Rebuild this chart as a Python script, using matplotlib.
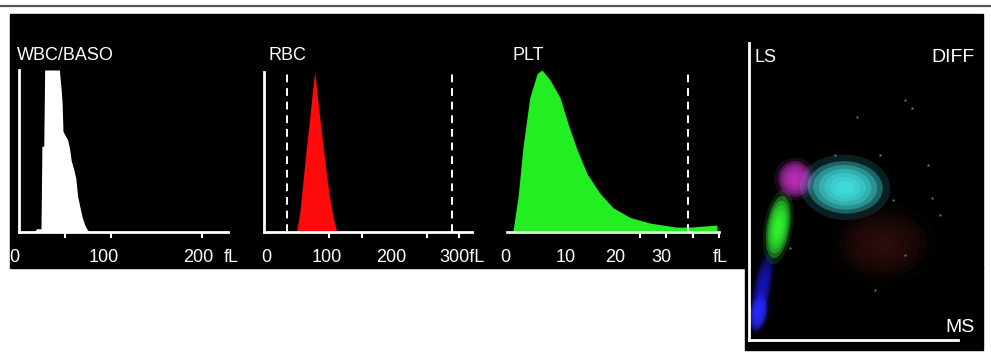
import numpy as np
import matplotlib.pyplot as plt
from matplotlib.patches import Rectangle, Ellipse

W, H = 991, 357
FONT = ['Liberation Sans Narrow', 'Liberation Sans', 'DejaVu Sans']

# --- WBC/BASO histogram (fL vs relative count) ---
wbc_fl = [17, 19, 24, 25, 27, 28, 44, 46, 47, 48, 53, 55, 57, 60, 62, 64, 67, 69, 72, 75, 78]
wbc_count = [0, 2, 2, 53, 53, 100, 100, 88, 80, 62, 57, 52, 44, 38, 33, 22, 14, 9, 4, 1, 0]
wbc_ticks = [50, 100, 200]
wbc_labels = ['0', '100', '200', 'fL']
wbc_label_at = [-5.5, 92, 196, 232]

# --- RBC histogram ---
rbc_fl = [50, 55, 60, 65, 70, 75, 78, 82, 87, 92, 97, 102, 107, 112]
rbc_count = [0, 12, 32, 52, 70, 90, 100, 85, 67, 50, 33, 19, 8, 0]
rbc_ticks = [100, 150, 250, 300]
rbc_discr = [35, 289]
rbc_labels = ['0', '100', '200', '300fL']
rbc_label_at = [3, 97, 195, 305]

# --- PLT histogram ---
plt_fl = [1.1, 2.1, 3.0, 4.3, 5.7, 6.6, 8.1, 10, 11.5, 13.2, 15.1, 17.5, 20, 23.2, 27, 32, 34.5, 39.6]
plt_count = [0, 22, 52, 83, 98, 100, 94, 83, 67, 51, 36, 24, 15, 9, 5.5, 3, 3, 4.3]
plt_ticks = [25, 30, 35, 40]
plt_discr = [34.2]
plt_labels = ['0', '10', '20', '30', 'fL']
plt_label_at = [-0.4, 11.1, 20.4, 29.2, 40.2]

# --- DIFF scattergram clusters (MS vs LS, channel units) ---
# long axis, short axis, angle of long axis
cl_x = [6.2, 4.6, 14, 22, 46, 64]
cl_y = [24, 13, 54, 77, 73, 46]
cl_long = [34, 17, 30, 17, 36, 42]
cl_short = [8, 8, 11, 16, 25, 32]
cl_angle = [79, 80, 81, 90, -3, 0]
cl_color = ['#1818d8', '#2a2aff', '#33ff33', '#c030c0', '#45e8e8', '#3a1212']
cl_alpha = [0.25, 0.35, 0.35, 0.35, 0.35, 0.2]
stray_x = [74.6, 78, 51.7, 85.6, 87.6, 62.7, 69, 91.4, 74.6, 19.6, 60.3, 41]
stray_y = [114.8, 111, 106.7, 83.7, 68, 88.5, 67, 59.8, 40.7, 44, 24, 88.5]


def fx(px):
    return px / W


def fy(py):
    return 1 - py / H


def panel(x0, x1, ytop, ybot):
    ax = fig.add_axes([fx(x0), fy(ybot), (x1 - x0) / W, (ybot - ytop) / H])
    ax.set_facecolor('none')
    ax.set_zorder(2)
    for s in ['top', 'right']:
        ax.spines[s].set_visible(False)
    for s in ['left', 'bottom']:
        ax.spines[s].set_color('white')
        ax.spines[s].set_linewidth(2)
    ax.set_yticks([])
    ax.tick_params(axis='x', direction='out', length=4, width=1.5, color='white',
                   labelbottom=False)
    return ax


def tick_text(ax, labels, where):
    for lab, x in zip(labels, where):
        ax.annotate(lab, xy=(x, 0), xycoords=('data', 'axes fraction'),
                    xytext=(0, -21.6), textcoords='offset points',
                    ha='center', va='baseline', color='white', fontsize=13,
                    family=FONT, annotation_clip=False)


fig = plt.figure(figsize=(W / 100, H / 100), dpi=100)
fig.patch.set_facecolor('white')

# screen background
fig.add_artist(plt.Line2D([0, 1], [fy(6), fy(6)], color='#555555', lw=1.6, zorder=-2))
fig.add_artist(Rectangle((fx(10), fy(268)), fx(983) - fx(10), (268 - 14) / H,
                         transform=fig.transFigure, color='black', zorder=-1))
fig.add_artist(Rectangle((fx(745), fy(350)), fx(983) - fx(745), (350 - 267) / H,
                         transform=fig.transFigure, color='black', zorder=-1))

# WBC/BASO
ax1 = panel(19, 228, 70, 232)
ax1.set_xlim(0, 228)
ax1.set_ylim(0, 100)
ax1.fill_between(wbc_fl, wbc_count, color='white', lw=0)
ax1.set_xticks(wbc_ticks)
tick_text(ax1, wbc_labels, wbc_label_at)

# RBC
ax2 = panel(264, 472, 72, 232)
ax2.set_xlim(0, 320)
ax2.set_ylim(0, 100)
ax2.fill_between(rbc_fl, rbc_count, color='#ff0a0a', lw=0)
for d in rbc_discr:
    ax2.axvline(d, color='white', lw=1.4, ls=(0, (4, 3)))
ax2.set_xticks(rbc_ticks)
tick_text(ax2, rbc_labels, rbc_label_at)

# PLT
ax3 = panel(507, 719, 70, 232)
ax3.spines['left'].set_visible(False)
ax3.spines['bottom'].set_color('#d8ffd8')
ax3.set_xlim(0, 40)
ax3.set_ylim(0, 100)
ax3.fill_between(plt_fl, plt_count, color='#22ee22', lw=0)
for d in plt_discr:
    ax3.axvline(d, color='white', lw=1.4, ls=(0, (4, 3)))
ax3.set_xticks(plt_ticks)
tick_text(ax3, plt_labels, plt_label_at)

# DIFF scattergram
ax4 = panel(749, 958, 43, 340)
ax4.set_xticks([])
ax4.set_xlim(0, 100)
ax4.set_ylim(0, 142)
for x, y, lg, sh, a, c, al in zip(cl_x, cl_y, cl_long, cl_short, cl_angle, cl_color, cl_alpha):
    ax4.add_patch(Ellipse((x, y), lg * 1.2, sh * 1.25, angle=a, color=c, alpha=al * 0.4, lw=0))
    for s in [1.0, 0.85, 0.7, 0.55, 0.4, 0.25]:
        ax4.add_patch(Ellipse((x, y), lg * s, sh * s, angle=a, color=c, alpha=al, lw=0))
ax4.scatter(stray_x, stray_y, s=3, color='#4a7070', lw=0)

# titles
for txt, x, y in [('WBC/BASO', 17, 60), ('RBC', 268, 60), ('PLT', 512, 60),
                  ('LS', 755, 62)]:
    fig.text(fx(x), fy(y), txt, ha='left', va='baseline', color='white',
             fontsize=13, family=FONT)
fig.text(fx(975), fy(62), 'DIFF', ha='right', va='baseline', color='white',
         fontsize=14, family=FONT)
fig.text(fx(975), fy(332), 'MS', ha='right', va='baseline', color='white',
         fontsize=14, family=FONT)

fig.savefig('out.png', dpi=100, facecolor='white')
